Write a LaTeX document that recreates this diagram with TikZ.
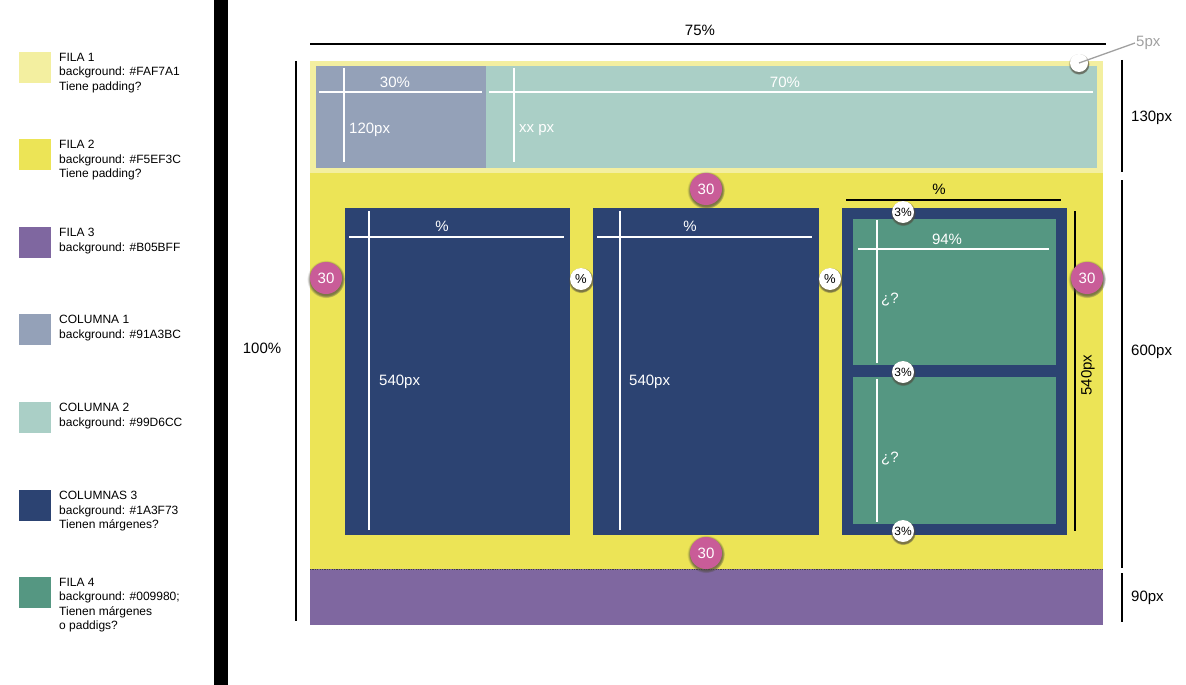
\documentclass[tikz,border=0pt]{standalone}
\usepackage{fontspec}
\setmainfont{Liberation Sans}
\usetikzlibrary{shadows}

\definecolor{filaA}{HTML}{F3EFA0}
\definecolor{filaB}{HTML}{ECE456}
\definecolor{filaC}{HTML}{7F67A0}
\definecolor{colA}{HTML}{94A1B8}
\definecolor{colB}{HTML}{AACFC6}
\definecolor{colC}{HTML}{2C4372}
\definecolor{filaD}{HTML}{559782}
\definecolor{rosa}{HTML}{C95C98}
\definecolor{gris}{HTML}{A0A0A0}

\tikzset{
  muestra/.style={anchor=north west, minimum width=32pt, minimum height=31pt, inner sep=0pt},
  leyenda/.style={anchor=north west, align=left, inner sep=0pt, font=\fontsize{12}{14.5}\selectfont},
  medida/.style={inner sep=1pt, font=\fontsize{15}{18}\selectfont},
  blanco/.style={medida, text=white},
  regla/.style={white, line width=1.6pt},
  cota/.style={black, line width=1.6pt},
  sombra/.style={circular drop shadow={shadow xshift=0pt, shadow yshift=-1pt, shadow scale=1.18, fill=black!80!yellow, opacity=0.7}},
  bola/.style={circle, sombra, fill=rosa, text=white, minimum size=32pt, inner sep=0pt, font=\fontsize{15}{18}\selectfont},
  marca/.style={circle, sombra, fill=white, minimum size=22pt, inner sep=0pt, font=\fontsize{13}{15}\selectfont},
}

\begin{document}
\begin{tikzpicture}[x=1pt,y=-1pt]
\useasboundingbox (0,0) rectangle (1186,685);

% leyenda
\foreach \i/\y/\c/\t in {1/52/filaA/{FILA 1\\background: \#FAF7A1\\Tiene padding?},
  2/139/filaB/{FILA 2\\background: \#F5EF3C\\Tiene padding?},
  3/227/filaC/{FILA 3\\background: \#B05BFF},
  4/314/colA/{COLUMNA 1\\background: \#91A3BC},
  5/402/colB/{COLUMNA 2\\background: \#99D6CC},
  6/490/colC/{COLUMNAS 3\\background: \#1A3F73\\Tienen márgenes?},
  7/577/filaD/{FILA 4\\background: \#009980;\\Tienen márgenes\\o paddigs?}}{
  \node[muestra, fill=\c] (m\i) at (19,\y) {};
  \node[leyenda] (ley\i) at (59,\y+1) {\t};
}
\fill[black] (214,0) rectangle (228,685);

% filas
\fill[filaA] (310,61) rectangle (1103,173);
\fill[colA] (316,66) rectangle (486,168);
\fill[colB] (486,66) rectangle (1097,168);
\fill[filaB] (310,173) rectangle (1103,569);
\fill[filaC] (310,569) rectangle (1103,625);
\draw[black!75, line width=0.6pt, dash pattern=on 1.2pt off 1.2pt] (310,569) -- (1103,569);

% columnas
\fill[colC] (345,208) rectangle (570,535);
\fill[colC] (593,208) rectangle (819,535);
\fill[colC] (842,208) rectangle (1067,535);
\fill[filaD] (853,219) rectangle (1056,365);
\fill[filaD] (853,377) rectangle (1056,524);

% reglas blancas
\draw[regla] (319,92) -- (482,92);
\draw[regla] (344,68) -- (344,162);
\draw[regla] (489,92) -- (1093,92);
\draw[regla] (514,68) -- (514,162);
\draw[regla] (349,237) -- (564,237);
\draw[regla] (369,211) -- (369,530);
\draw[regla] (597,237) -- (812,237);
\draw[regla] (620,211) -- (620,530);
\draw[regla] (858,249) -- (1049,249);
\draw[regla] (877,220) -- (877,363);
\draw[regla] (877,379) -- (877,522);

\node[blanco] (treintapc) at (395,82) {30\%};
\node[blanco, anchor=west] (cientoveinte) at (348,130) {120px};
\node[blanco] (setentapc) at (785,82) {70\%};
\node[blanco, anchor=west] (xxpx) at (518,130) {xx px};
\node[blanco] (pcA) at (442,226) {\%};
\node[blanco, anchor=west] (altoA) at (378,382) {540px};
\node[blanco] (pcB) at (690,226) {\%};
\node[blanco, anchor=west] (altoB) at (628,382) {540px};
\node[blanco] (noventa) at (947,239) {94\%};
\node[blanco, anchor=west] (dudaA) at (880,300) {¿?};
\node[blanco, anchor=west] (dudaB) at (880,459) {¿?};

% cotas
\draw[cota] (310,44) -- (1106,44);
\node[medida] (ancho) at (700,30) {75\%};
\draw[cota] (296,61) -- (296,621);
\node[medida] (alto) at (262,348) {100\%};
\draw[cota] (1122,60) -- (1122,172);
\node[medida, anchor=west] (filaAalto) at (1130,118) {130px};
\draw[cota] (1122,180) -- (1122,568);
\node[medida, anchor=west] (filaBalto) at (1130,352) {600px};
\draw[cota] (1122,573) -- (1122,622);
\node[medida, anchor=west] (filaCalto) at (1130,598) {90px};
\draw[black, line width=1.3pt] (846,200) -- (1061,200);
\node[medida] (anchoC) at (939,189) {\%};
\draw[black, line width=1.3pt] (1075,211) -- (1075,531);
\node[medida, rotate=90] (altoC) at (1088,375) {540px};

% marcas
\node[circle, sombra, fill=white, minimum size=18pt, inner sep=0pt] (punto) at (1079,63) {};
\node[medida, text=gris, anchor=west] (cincopx) at (1135,43) {5px};
\draw[gris, line width=1.3pt] (punto.center) -- (cincopx.west);

\node[bola] (margenIzq) at (326,278) {30};
\node[bola] (margenSup) at (706,189) {30};
\node[bola] (margenInf) at (706,553) {30};
\node[bola] (margenDer) at (1087,278) {30};

\node[marca] (huecoA) at (581,279) {\%};
\node[marca] (huecoB) at (830,279) {\%};
\node[marca, font=\fontsize{12}{14}\selectfont] (tresA) at (903,212) {3\%};
\node[marca, font=\fontsize{12}{14}\selectfont] (tresB) at (903,372) {3\%};
\node[marca, font=\fontsize{12}{14}\selectfont] (tresC) at (903,531) {3\%};
\end{tikzpicture}
\end{document}
